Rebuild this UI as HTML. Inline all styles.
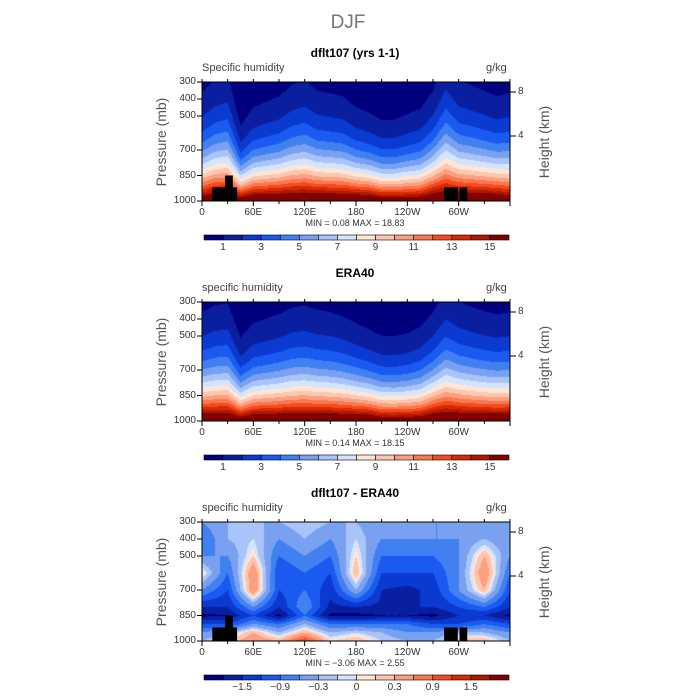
<!DOCTYPE html>
<html><head><meta charset="utf-8">
<style>
body{margin:0;background:#fff;}
#wrap{position:relative;width:700px;height:700px;overflow:hidden;font-family:"Liberation Sans",sans-serif;}
.t{position:absolute;white-space:nowrap;}
canvas{position:absolute;}
</style></head>
<body>
<div id="wrap">
<div class="t" style="left:320px;top:12px;width:56px;text-align:center;font-size:19px;color:#777;">DJF</div>
</div>
<script>
// ---- data ----
const lonGrid = [0,15,30,45,60,75,90,105,120,135,150,165,180,195,210,225,240,255,270,285,300,315,330,345,360];
const modelH  = [253,278,291,177,215,228,240,266,278,253,247,240,215,203,190,190,203,215,253,329,278,266,253,240,253];
const modelQs = [17,18,18,17,18,18,18,18,18,18,18,18,18,18,17,17,17,17,18,18,18,18,18,18,17];
const obsH    = [250,265,270,195,225,235,245,260,265,255,250,240,225,210,200,198,205,220,250,300,275,262,252,245,250];
const obsQs   = [18,18,18,17,18,18,18,18,18,18,18,18,18,18,17,17,17,17,18,18,18,18,18,18,18];
const diffLons = [0,30,60,90,120,150,180,210,240,270,300,330,360];
const diffP = [300,400,500,600,700,800,850,900,950,1000];
const diffVals = [
 [-0.6,-0.3,-0.3,-0.3,-0.1,-0.3,-0.3,-0.6,-0.6,-0.6,-0.6,-0.3,-0.6],
 [-0.9,-0.3,-0.1,-0.6,-0.3,-0.6,-0.1,-0.6,-0.6,-0.6,-0.6,-0.3,-0.6],
 [-0.6,-0.6,0.1,-0.9,-0.6,-0.9,0.1,-0.9,-0.9,-0.9,-0.6,0.3,-0.6],
 [0.1,-0.9,0.6,-1.2,-0.9,-1.2,0.3,-1.2,-1.2,-1.2,-0.6,0.6,-0.9],
 [-0.6,-1.2,0.6,-1.2,-0.9,-1.4,-0.3,-1.5,-1.6,-1.4,-0.6,0.3,-1.2],
 [-1.5,-1.5,-0.6,-1.5,-0.6,-1.6,-1.5,-1.6,-1.5,-1.5,-1.2,-0.9,-1.5],
 [-1.9,-1.8,-1.2,-1.9,-0.9,-1.9,-1.9,-1.8,-1.8,-1.9,-1.5,-1.5,-1.9],
 [-1.2,-1.2,-0.6,-0.9,-0.3,-0.9,-0.9,-0.9,-0.9,-1.2,-1.2,-0.9,-1.2],
 [-0.6,-0.3,0.3,-0.3,0.3,-0.3,-0.1,-0.3,-0.6,-0.6,-0.3,-0.3,-0.6],
 [-0.3,0.1,0.6,0.3,1.2,0.1,0.3,-0.1,-0.3,-0.3,0.3,0.3,-0.3]];
const qLevels = [1,2,3,4,5,6,7,8,9,10,11,12,13,14,15];
const qLabels = ["1","3","5","7","9","11","13","15"];
const dLevels = [-1.8,-1.5,-1.2,-0.9,-0.6,-0.3,-0.1,0,0.1,0.3,0.6,0.9,1.2,1.5,1.8];
const dLabels = ["\u22121.5","\u22120.9","\u22120.3","0","0.3","0.9","1.5"];
const dLabelIdx = [1,3,5,7,9,11,13];
const pTicks = [300,400,500,700,850,1000];
const xTicks = [0,60,120,180,240,300];
const xTickLabels = ["0","60E","120E","180","120W","60W"];
const hTicks = [8,4];
const palette = ["#00007f","#0a1fa0","#0a3ad0","#1a5af0","#4080f0","#7aa0f0","#a8c4f8","#d4e4fc","#fde6d6","#fcc6b0","#fca080","#f87850","#f84a20","#d82a00","#b01800","#800000"];

const wrap = document.getElementById('wrap');
const X0=202, X1=510, PH=119;
function xs(lon){return X0+lon/360*(X1-X0);}
function ys(top,p){return top+(p-300)/700*PH;}
function interp(arr,xsArr,x){for(let i=0;i<xsArr.length-1;i++){if(x<=xsArr[i+1]){const t=(x-xsArr[i])/(xsArr[i+1]-xsArr[i]);return arr[i]*(1-t)+arr[i+1]*t;}}return arr[arr.length-1];}
function colorIdx(v,lv){let k=0;for(const l of lv){if(v>=l)k++;}return k;}
function txt(s,x,y,opts,name){const d=document.createElement('div');d.className='t';d.textContent=s;
 d.style.left=x+'px';d.style.top=y+'px';Object.assign(d.style,opts||{});
 
 
 wrap.appendChild(d);return d;}

function panel(top,title,sub,fn,levels,labels,labelIdx,land,minmax,pfx){
 txt(title,200,top-36,{width:310+'px',textAlign:'center',fontSize:'12px',fontWeight:'bold',color:'#000'},pfx+'-title');
 txt(sub,202,top-20,{fontSize:'11px',color:'#444'},pfx+'-variable-label');
 txt('g/kg',486,top-20,{fontSize:'11px',color:'#444'},pfx+'-units-label');
 const c=document.createElement('canvas');c.width=X1-X0;c.height=PH;c.style.left=X0+'px';c.style.top=top+'px';
 
 
 wrap.appendChild(c);const g=c.getContext('2d');
 for(let i=0;i<c.width;i++){const lon=(i+0.5)/c.width*360;
  for(let j=0;j<PH;j++){const p=300+(j+0.5)/PH*700;g.fillStyle=palette[colorIdx(fn(lon,p),levels)];g.fillRect(i,j,1,1);}}
 const NS='http://www.w3.org/2000/svg';
 const svg=document.createElementNS(NS,'svg');svg.setAttribute('width',700);svg.setAttribute('height',700);
 svg.style.position='absolute';svg.style.left='0';svg.style.top='0';
 
 
 wrap.appendChild(svg);
 function el(t,a,name){const e=document.createElementNS(NS,t);for(const k in a)e.setAttribute(k,a[k]);svg.appendChild(e);return e;}
 land.forEach((b,i)=>el('rect',{x:xs(b[0]),y:ys(top,b[2]),width:xs(b[1])-xs(b[0]),height:ys(top,1000)-ys(top,b[2]),fill:'#000'},pfx+'-land-mask'));
 el('rect',{x:X0,y:top,width:X1-X0,height:PH,fill:'none',stroke:'#000','stroke-width':1},pfx+'-plot-frame');
 for(let l=0;l<=360;l+=30){const x=xs(l);el('line',{x1:x,x2:x,y1:top+PH,y2:top+PH+(l%60==0?5:3),stroke:'#000'},'x-tick');el('line',{x1:x,x2:x,y1:top,y2:top-3,stroke:'#000'},'x-tick-top');}
 xTicks.forEach((l,i)=>txt(xTickLabels[i],xs(l)-20,top+PH+6,{width:'40px',textAlign:'center',fontSize:'10px',color:'#333'},pfx+'-x-tick-label'));
 pTicks.forEach(p=>{const y=ys(top,p);el('line',{x1:X0-5,x2:X0,y1:y,y2:y,stroke:'#000'},'y-tick');txt(String(p),166,y-6,{width:'30px',textAlign:'right',fontSize:'10px',color:'#333'},pfx+'-y-tick-label');});
 hTicks.forEach(h=>{const yy=h==8?top+10:top+54;el('line',{x1:X1,x2:X1+6,y1:yy,y2:yy,stroke:'#000'},'height-tick');txt(String(h),518,yy-6,{fontSize:'10px',color:'#333'},pfx+'-height-tick-label');});
 txt('Pressure (mb)',116,top+52,{fontSize:'14px',color:'#555',transform:'rotate(-90deg)',transformOrigin:'50% 50%',width:'90px',textAlign:'center'},pfx+'-y-axis-title');
 txt('Height (km)',504,top+52,{fontSize:'14px',color:'#555',transform:'rotate(-90deg)',width:'80px',textAlign:'center'},pfx+'-right-axis-title');
 txt(minmax,200,top+PH+17,{width:310+'px',textAlign:'center',fontSize:'9px',color:'#333'},pfx+'-min-max');
 const cbT=top+PH+34, cbL=204, cbW=305, n=palette.length, bw=cbW/n;
 palette.forEach((col,i)=>el('rect',{x:cbL+i*bw,y:cbT,width:bw,height:5,fill:col,stroke:'#000','stroke-width':0.6},pfx+'-colorbar-box'));
 labels.forEach((s,i)=>{const x=cbL+(labelIdx[i]+1)*bw;txt(s,x-20,cbT+7,{width:'40px',textAlign:'center',fontSize:'10px',color:'#333'},pfx+'-colorbar-label');});
}
function qField(H,Qs){return (lon,p)=>{const z=(1000-p)/interp(H,lonGrid,lon);return interp(Qs,lonGrid,lon)*Math.exp(-z-0.05*z*z);};}
function dField(lon,p){let j=0;while(j<diffP.length-2&&p>diffP[j+1])j++;const tp=Math.min(1,Math.max(0,(p-diffP[j])/(diffP[j+1]-diffP[j])));
 const a=interp(diffVals[j],diffLons,lon),b=interp(diffVals[j+1],diffLons,lon);return a*(1-tp)+b*tp;}
const landBlocks=[[12,41,920],[27,36,850],[283,299,920],[301,310,920]];
const qIdx=[0,2,4,6,8,10,12,14];
panel(82,'dflt107 (yrs 1-1)','Specific humidity',qField(modelH,modelQs),qLevels,qLabels,qIdx,landBlocks,'MIN =    0.08   MAX =   18.83','model');
panel(302,'ERA40','specific humidity',qField(obsH,obsQs),qLevels,qLabels,qIdx,[],'MIN =    0.14   MAX =   18.15','obs');
panel(522,'dflt107 - ERA40','specific humidity',dField,dLevels,dLabels,dLabelIdx,landBlocks,'MIN =   \u22123.06   MAX =    2.55','diff');
</script>
</body></html>
